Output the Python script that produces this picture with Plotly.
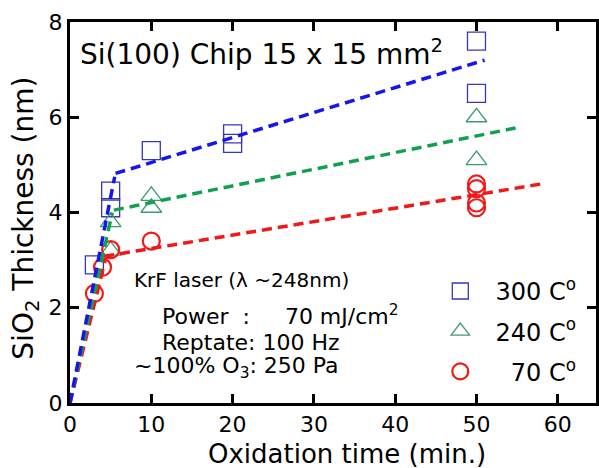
import plotly.graph_objects as go

# ---- data ----
time_300 = [3, 5, 5, 10, 20, 20, 50, 50]
thk_300 = [2.9, 4.1, 4.45, 5.3, 5.45, 5.65, 7.6, 6.5]
time_240 = [5, 5, 10, 10, 50, 50]
thk_240 = [3.2, 3.8, 4.1, 4.35, 5.1, 6.0]
time_70 = [3, 4, 5, 10, 50, 50, 50, 50]
thk_70 = [2.3, 2.85, 3.22, 3.4, 4.1, 4.2, 4.5, 4.6]

# fitted dashed lines (initial stage, then slow linear stage)
fit_300_x = [0, 5.5, None, 5.6, 51]
fit_300_y = [0, 4.75, None, 4.82, 7.2]
fit_240_x = [0, 5.2, None, 5.4, 55.5]
fit_240_y = [0, 4.0, None, 4.05, 5.8]
fit_70_x = [0, 4.4, None, 4.2, 58]
fit_70_y = [0, 3.05, None, 3.08, 4.6]

x_ticks = [0, 10, 20, 30, 40, 50, 60]
y_ticks = [0, 2, 4, 6, 8]

legend_names = ["\u00a0\u00a0300 C<sup>o</sup>", "\u00a0\u00a0240 C<sup>o</sup>",
                "\u00a0\u00a0\u200770 C<sup>o</sup>"]

FONT = "DejaVu Sans"

fig = go.Figure()

fig.add_trace(go.Scatter(
    x=time_300, y=thk_300, mode="markers", name=legend_names[0],
    legendgroup="a",
    marker=dict(symbol="square-open", size=18, color="#3838b4",
                line=dict(width=1.3, color="#3838b4"))))
fig.add_trace(go.Scatter(
    x=time_240, y=thk_240, mode="markers", name=legend_names[1],
    legendgroup="b",
    marker=dict(symbol="triangle-up-open", size=18, color="#3f9a72",
                line=dict(width=1.3, color="#3f9a72"))))
fig.add_trace(go.Scatter(
    x=time_70, y=thk_70, mode="markers", name=legend_names[2],
    legendgroup="c",
    marker=dict(symbol="circle-open", size=17, color="#f51818",
                line=dict(width=2.2, color="#f51818"))))

for fx, fy, col in [(fit_70_x, fit_70_y, "#f01818"),
                    (fit_240_x, fit_240_y, "#10a050"),
                    (fit_300_x, fit_300_y, "#1515f0")]:
    fig.add_trace(go.Scatter(
        x=fx, y=fy, mode="lines", showlegend=False, connectgaps=False,
        line=dict(color=col, width=3.5, dash="10px,6px")))

fig.update_layout(
    width=599, height=468,
    margin=dict(l=70, r=0, t=22, b=65),
    plot_bgcolor="white", paper_bgcolor="white",
    font=dict(family=FONT, color="black"),
    legend=dict(x=0.704, y=0.352, xanchor="left", yanchor="top",
                font=dict(family=FONT, size=24, color="black"),
                bgcolor="rgba(0,0,0,0)", tracegroupgap=6),
)

fig.update_xaxes(
    range=[0, 64.7], tickvals=x_ticks, ticks="inside", ticklen=9,
    tickwidth=3, tickcolor="black", showline=True, linewidth=3,
    linecolor="black", mirror="ticks", showgrid=False, zeroline=False,
    tickfont=dict(family=FONT, size=22, color="black"))
fig.update_yaxes(
    range=[0, 8], tickvals=y_ticks, ticks="inside", ticklen=9,
    tickwidth=3, tickcolor="black", showline=True, linewidth=3,
    linecolor="black", mirror="ticks", showgrid=False, zeroline=False,
    tickfont=dict(family=FONT, size=22, color="black"))

ann = [
    dict(text="Oxidation time (min.)", x=0.5265, y=-0.134, size=26,
         xanchor="center", yanchor="middle", angle=0),
    dict(text="SiO<sub>2</sub> Thickness (nm)", x=-0.084, y=0.486, size=28,
         xanchor="center", yanchor="middle", angle=-90),
    dict(text="Si(100) Chip 15 x 15 mm<sup>2</sup>", x=0.016, y=0.921, size=28,
         xanchor="left", yanchor="middle", angle=0),
    dict(text="KrF laser (\u03bb ~248nm)", x=0.118, y=0.323, size=20,
         xanchor="left", yanchor="middle", angle=0),
    dict(text="Power\u00a0\u00a0:\u00a0\u00a0\u00a0\u00a0\u00a070 mJ/cm<sup>2</sup>",
         x=0.171, y=0.231, size=22, xanchor="left", yanchor="middle", angle=0),
    dict(text="Reptate: 100 Hz", x=0.171, y=0.16, size=22,
         xanchor="left", yanchor="middle", angle=0),
    dict(text="~100% O<sub>3</sub>: 250 Pa", x=0.118, y=0.092, size=22,
         xanchor="left", yanchor="middle", angle=0),
]
for a in ann:
    fig.add_annotation(text=a["text"], x=a["x"], y=a["y"], xref="paper",
                       yref="paper", showarrow=False, xanchor=a["xanchor"],
                       yanchor=a["yanchor"], textangle=a["angle"],
                       font=dict(family=FONT, size=a["size"], color="black"))

fig.write_html("out.html",
               config={"displayModeBar": False},
               post_script="document.body.style.margin='0px';")
